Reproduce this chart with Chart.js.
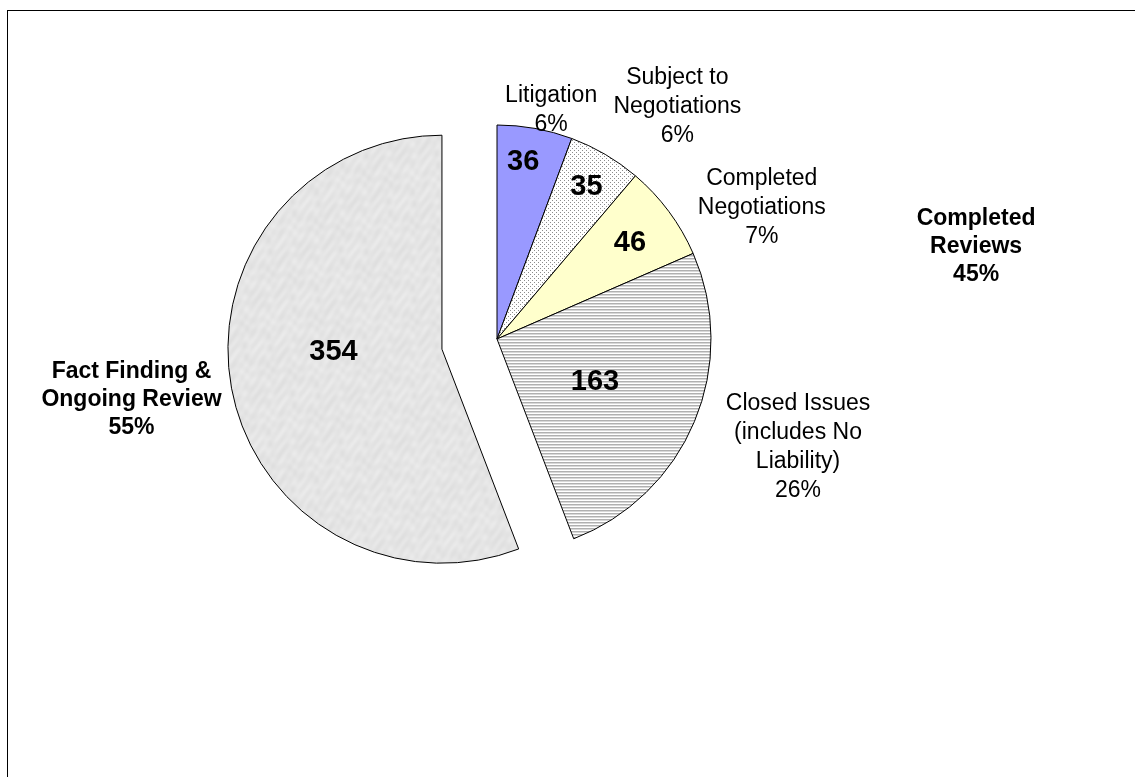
<!DOCTYPE html>
<html>
<head>
<meta charset="utf-8">
<title>Review status</title>
<script src="https://cdn.jsdelivr.net/npm/chart.js@4.4.1/dist/chart.umd.min.js"></script>
<style>
  html, body { margin: 0; padding: 0; background: #fff; overflow: hidden; }
  .frame { position: absolute; left: 7px; top: 10px; width: 1300px; height: 900px; border-left: 1px solid #000; border-top: 1px solid #000; }
  .chart-box { position: absolute; left: 0; top: 0; width: 1135px; height: 777px; }
</style>
</head>
<body>
<div class="frame"></div>
<div class="chart-box"><canvas id="reviewChart"></canvas></div>
<script>
// slices, clockwise from 12 o'clock
const categories = ['Litigation', 'Subject to\nNegotiations', 'Completed\nNegotiations', 'Closed Issues\n(includes No\nLiability)', 'Fact Finding &\nOngoing Review'];
const counts = [36, 35, 46, 163, 354];

// summary groups and the shares printed next to them
const groupNames = ['Completed\nReviews', 'Fact Finding &\nOngoing Review'];
const groupMembers = [[0, 1, 2, 3], [4]];
const groupShares = ['45%', '55%'];

// label spots: [degrees clockwise from top, distance in radii]
const nameSpots = [[13.3, 1.10], [37.8, 1.375], [63.7, 1.38], [109.8, 1.495], null];
const countSpots = [[8.4, 0.836], [30.5, 0.824], [54.2, 0.766], [113.7, 0.5], [268.5, 0.507]];
const groupSpots = [[79.1, 2.28], [260.7, 1.47]];

// how far each slice is pulled out, px
const explode = [0, 0, 0, 0, 56];

const FONT = 'Arial, "Liberation Sans", sans-serif';

document.addEventListener('DOMContentLoaded', function() {
    function makePattern(w, h, paint) {
        const c = document.createElement('canvas');
        c.width = w;
        c.height = h;
        const g = c.getContext('2d');
        paint(g, w, h);
        return g.createPattern(c, 'repeat');
    }

    // fine dots
    const dots = makePattern(4, 4, function(g) {
        g.fillStyle = '#fff';
        g.fillRect(0, 0, 4, 4);
        g.fillStyle = '#8c8c8c';
        g.fillRect(0, 0, 1, 1);
        g.fillRect(2, 2, 1, 1);
    });

    // horizontal hatching
    const stripes = makePattern(4, 3, function(g) {
        g.fillStyle = '#b0b0b0';
        g.fillRect(0, 0, 4, 1);
        g.fillStyle = '#d8d8d8';
        g.fillRect(0, 1, 4, 1);
        g.fillStyle = '#fff';
        g.fillRect(0, 2, 4, 1);
    });

    // soft paper texture
    const paper = makePattern(96, 96, function(g, w, h) {
        const img = g.createImageData(w, h);
        for (let y = 0; y < h; y++) {
            for (let x = 0; x < w; x++) {
                const a = x * 2 * Math.PI / w, b = y * 2 * Math.PI / h;
                const v = 229 + Math.round(4 * Math.sin(3 * a + 2 * Math.sin(2 * b)) * Math.cos(5 * b + 1.5 * Math.sin(4 * a))
                    + 2 * Math.sin(11 * a + 7 * b));
                const k = (y * w + x) * 4;
                img.data[k] = img.data[k + 1] = img.data[k + 2] = v;
                img.data[k + 3] = 255;
            }
        }
        g.putImageData(img, 0, 0);
    });

    function sliceCenter(arc, i) {
        const p = arc.getProps(['x', 'y', 'startAngle', 'endAngle', 'outerRadius']);
        const shift = explode[i] || 0;
        const mid = (p.startAngle + p.endAngle) / 2;
        return { x: p.x + Math.cos(mid) * shift, y: p.y + Math.sin(mid) * shift, r: p.outerRadius };
    }

    function spotAt(c, spot) {
        const a = spot[0] * Math.PI / 180 - Math.PI / 2;
        return { x: c.x + Math.cos(a) * spot[1] * c.r, y: c.y + Math.sin(a) * spot[1] * c.r };
    }

    function drawLines(ctx, text, x, y, lineH) {
        const lines = text.split('\n');
        const top = y - (lines.length - 1) * lineH / 2;
        lines.forEach((ln, i) => ctx.fillText(ln, x, top + i * lineH));
    }

    // pull slices straight out along their middle angle
    const explodeSlices = {
        id: 'explodeSlices',
        beforeDatasetsDraw(chart) {
            chart.getDatasetMeta(0).data.forEach((arc, i) => {
                const dist = explode[i] || 0;
                if (!dist || arc._exploded) return;
                const baseDraw = arc.draw;
                arc.draw = function(ctx, area) {
                    const mid = (this.startAngle + this.endAngle) / 2;
                    ctx.save();
                    ctx.translate(Math.cos(mid) * dist, Math.sin(mid) * dist);
                    baseDraw.call(this, ctx, area);
                    ctx.restore();
                };
                arc._exploded = true;
            });
        }
    };

    const sliceLabels = {
        id: 'sliceLabels',
        afterDatasetsDraw(chart) {
            const ctx = chart.ctx;
            const arcs = chart.getDatasetMeta(0).data;
            const total = counts.reduce((a, b) => a + b, 0);
            ctx.save();
            ctx.fillStyle = '#000';
            ctx.textAlign = 'center';
            ctx.textBaseline = 'middle';

            // counts inside the slices
            ctx.font = 'bold 29px ' + FONT;
            arcs.forEach((arc, i) => {
                const p = spotAt(sliceCenter(arc, i), countSpots[i]);
                ctx.fillText(String(counts[i]), p.x, p.y);
            });

            // names and percentages outside
            ctx.font = '23px ' + FONT;
            arcs.forEach((arc, i) => {
                if (!nameSpots[i]) return;
                const p = spotAt(sliceCenter(arc, i), nameSpots[i]);
                const pct = Math.round(counts[i] / total * 100) + '%';
                drawLines(ctx, categories[i] + '\n' + pct, p.x, p.y, 29);
            });

            // group summaries
            ctx.font = 'bold 23px ' + FONT;
            groupNames.forEach((name, g) => {
                const first = groupMembers[g][0];
                const p = spotAt(sliceCenter(arcs[first], first), groupSpots[g]);
                drawLines(ctx, name + '\n' + groupShares[g], p.x, p.y, 28);
            });
            ctx.restore();
        }
    };

    const ctx = document.getElementById('reviewChart').getContext('2d');

    const reviewChart = new Chart(ctx, {
        type: 'pie',
        data: {
            labels: categories.map(s => s.replace(/\n/g, ' ')),
            datasets: [{
                data: counts,
                backgroundColor: ['#9999ff', dots, '#ffffcc', stripes, paper],
                borderColor: '#000',
                borderWidth: 1,
                hoverBorderWidth: 1,
                hoverOffset: 0,
                clip: false
            }]
        },
        options: {
            responsive: true,
            maintainAspectRatio: false,
            animation: false,
            events: [],
            layout: {
                padding: { left: 282.5, right: 423.5, top: 124.5, bottom: 223.5 }
            },
            plugins: {
                legend: { display: false },
                tooltip: { enabled: false }
            }
        },
        plugins: [explodeSlices, sliceLabels]
    });
});
</script>
</body>
</html>
